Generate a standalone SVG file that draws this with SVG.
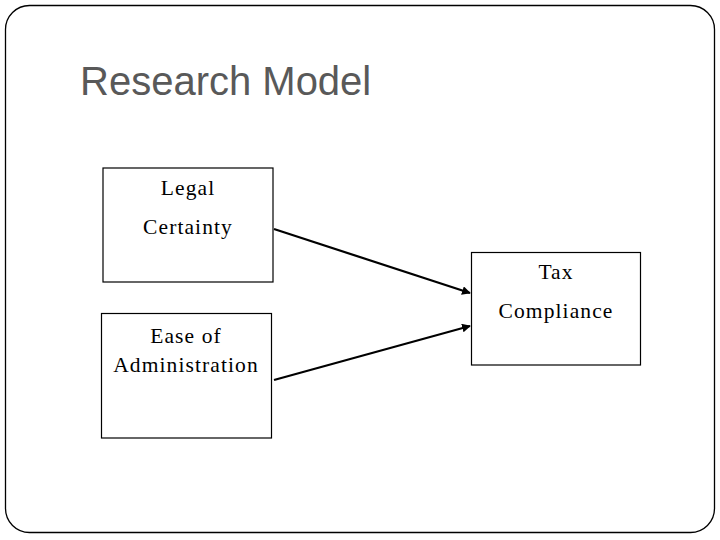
<svg xmlns="http://www.w3.org/2000/svg" width="720" height="540" viewBox="0 0 720 540">
<style>
.box{fill:#fff;stroke:#000;stroke-width:1.2}
.lbl{font-family:"Liberation Serif","Times New Roman",serif;font-size:21.5px;letter-spacing:1.1px;fill:#000;text-anchor:middle}
.conn{stroke:#000;stroke-width:2.2;fill:none}
</style>
<defs>
<marker id="arr" viewBox="0 0 10 10" refX="9" refY="5" markerWidth="4" markerHeight="4" orient="auto" markerUnits="strokeWidth">
<path d="M0,0 L10,5 L0,10 z" fill="#000"/>
</marker>
</defs>
<rect x="0" y="0" width="720" height="540" fill="#fff"/>
<rect x="5.5" y="5.5" width="709" height="527" rx="24" ry="24" fill="none" stroke="#000" stroke-width="1.3"/>
<text x="80" y="95" font-family="Liberation Sans, Arial, sans-serif" font-size="40" fill="#595959">Research Model</text>
<g id="legal">
<rect class="box" x="103" y="168" width="170" height="114"/>
<text class="lbl" x="188" y="195">Legal</text>
<text class="lbl" x="188" y="234">Certainty</text>
</g>
<g id="ease">
<rect class="box" x="101.5" y="313.5" width="170" height="124.5"/>
<text class="lbl" x="186" y="343">Ease of</text>
<text class="lbl" x="186" y="372">Administration</text>
</g>
<g id="tax">
<rect class="box" x="471.5" y="252.5" width="169" height="112.5"/>
<text class="lbl" x="556" y="279">Tax</text>
<text class="lbl" x="556" y="318">Compliance</text>
</g>
<g id="connectors">
<line class="conn" x1="274" y1="229" x2="470" y2="293" marker-end="url(#arr)"/>
<line class="conn" x1="274" y1="380" x2="470" y2="326" marker-end="url(#arr)"/>
</g>
</svg>
